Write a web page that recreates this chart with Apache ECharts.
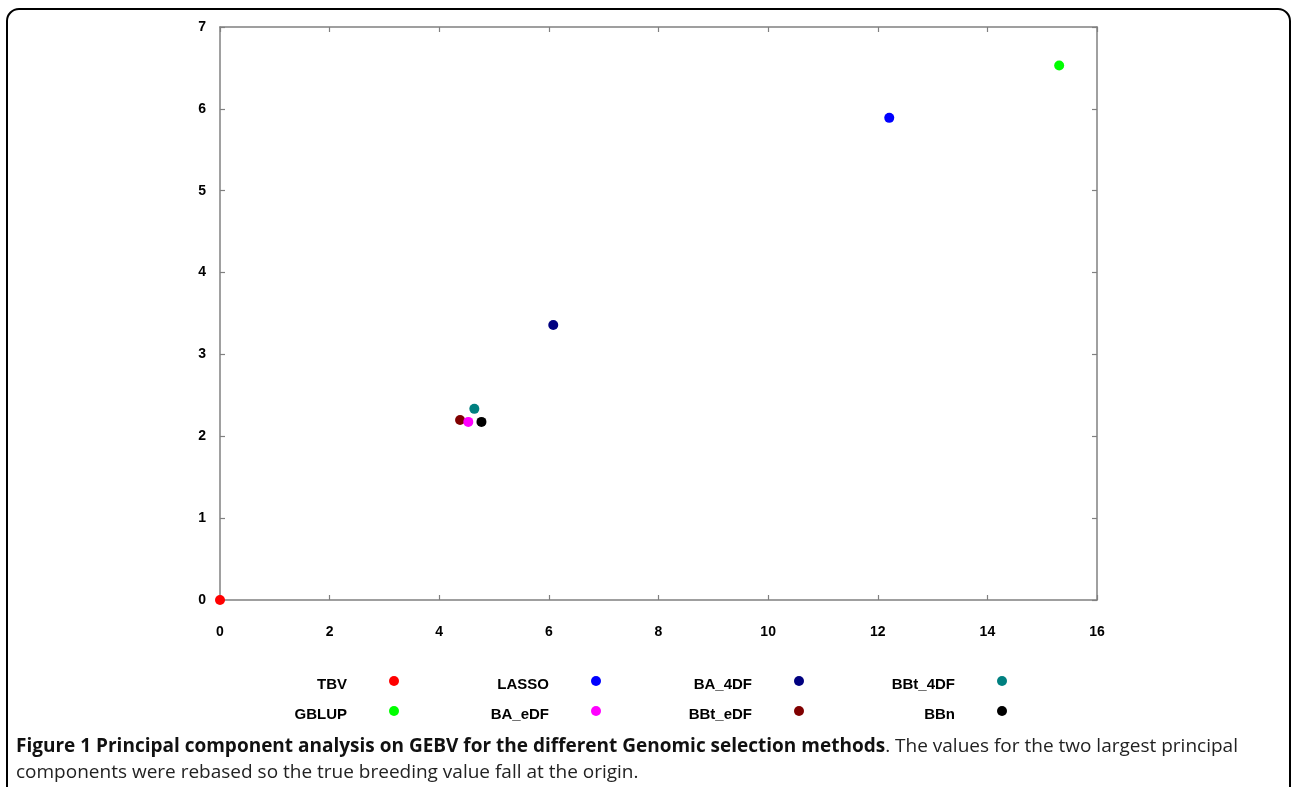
<!DOCTYPE html>
<html>
<head>
<meta charset="utf-8">
<script src="https://cdn.jsdelivr.net/npm/echarts@6/dist/echarts.min.js"></script>
<style>
html,body{margin:0;padding:0;background:#fff;}
#chart{width:1292px;height:787px;}
</style>
</head>
<body>
<div id="chart"></div>
<script>
// ---- data ----
const methods = ['TBV', 'GBLUP', 'LASSO', 'BA_4DF', 'BBt_4DF', 'BBt_eDF', 'BA_eDF', 'BBn'];
const pc1 = [0, 15.31, 12.21, 6.08, 4.64, 4.38, 4.53, 4.77];
const pc2 = [0, 6.53, 5.89, 3.36, 2.335, 2.20, 2.176, 2.176];
const legendRow1 = ['TBV', 'LASSO', 'BA_4DF', 'BBt_4DF'];
const legendRow2 = ['GBLUP', 'BA_eDF', 'BBt_eDF', 'BBn'];
const captionBold = 'Figure 1 Principal component analysis on GEBV for the different Genomic selection methods';
const captionRest1 = '. The values for the two largest principal';
const captionRest2 = 'components were rebased so the true breeding value fall at the origin.';

// ---- styles ----
const colorMap = {
  TBV: '#ff0000', GBLUP: '#00ff00', LASSO: '#0000ff', BA_4DF: '#000080',
  BBt_4DF: '#008080', BA_eDF: '#ff00ff', BBt_eDF: '#800000', BBn: '#000000'
};
const W = 1292;
const colX = [394, 596, 799, 1002];
const rowY = [681, 711];
const axisGray = '#808080';
const labelFont = { fontFamily: 'Liberation Sans, Arial, sans-serif', fontWeight: 'bold', fontSize: 15, color: '#000' };

const chart = echarts.init(document.getElementById('chart'), null, { renderer: 'canvas' });

const series = methods.map((m, i) => ({
  name: m,
  type: 'scatter',
  clip: false,
  symbol: 'circle',
  symbolSize: 10,
  itemStyle: { color: colorMap[m], opacity: 1 },
  data: [[pc1[i], pc2[i]]],
  z: 3 + i
}));

const legends = [];
[legendRow1, legendRow2].forEach((row, r) => {
  row.forEach((name, c) => {
    legends.push({
      data: [name],
      align: 'right',
      icon: 'circle',
      itemWidth: 10,
      itemHeight: 10,
      padding: 0,
      selectedMode: false,
      right: W - (colX[c] + 5),
      top: rowY[r] - 5,
      formatter: '{a|{name}}',
      textStyle: Object.assign({}, labelFont, {
        rich: { a: Object.assign({}, labelFont, { lineHeight: 22, verticalAlign: 'bottom', padding: [0, 37, 0, 0] }) }
      })
    });
  });
});

function mkAxis(kind, pos, showLabel, max, interval) {
  return {
    type: 'value',
    position: pos,
    min: 0,
    max: max,
    interval: interval,
    axisLine: { show: true, onZero: false, lineStyle: { color: axisGray, width: 1.5 } },
    axisTick: { show: true, inside: true, length: 5, lineStyle: { color: axisGray, width: 1.2 } },
    axisLabel: Object.assign({ show: showLabel, margin: kind === 'x' ? 25 : 14 }, labelFont, { fontSize: 14 }),
    splitLine: { show: false }
  };
}

const option = {
  backgroundColor: '#fff',
  animation: false,
  grid: { left: 220, right: W - 1097, top: 27, bottom: 787 - 600, containLabel: false },
  xAxis: [mkAxis('x', 'bottom', true, 16, 2), mkAxis('x', 'top', false, 16, 2)],
  yAxis: [mkAxis('y', 'left', true, 7, 1), mkAxis('y', 'right', false, 7, 1)],
  legend: legends,
  series: series,
  graphic: [
    {
      type: 'rect',
      shape: { x: 7, y: 9, width: 1283, height: 820, r: 12 },
      style: { fill: 'none', stroke: '#000', lineWidth: 2 },
      z: 100
    },
    {
      type: 'text',
      left: 16,
      top: 737,
      style: {
        text: '{b|' + captionBold + '}{r|' + captionRest1 + '}\n{r|' + captionRest2 + '}',
        rich: {
          b: { fontFamily: 'Open Sans', fontWeight: 'bold', fontSize: 19, lineHeight: 26, fill: '#111' },
          r: { fontFamily: 'Open Sans', fontWeight: 'normal', fontSize: 19, lineHeight: 26, fill: '#222' }
        }
      },
      z: 100
    }
  ]
};
chart.setOption(option);
</script>
</body>
</html>
